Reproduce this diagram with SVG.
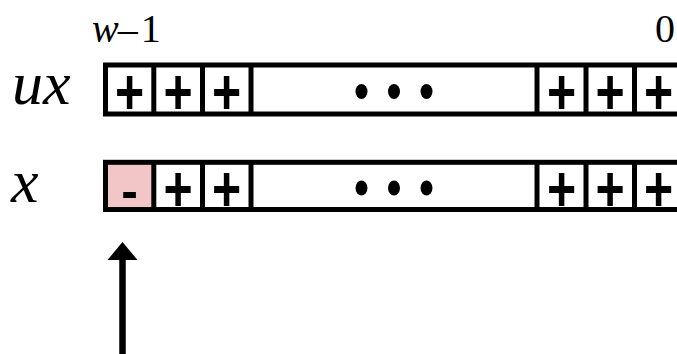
<svg xmlns="http://www.w3.org/2000/svg" width="677" height="354" viewBox="0 0 677 354">
<style>
.lbl{font-family:"Liberation Serif","Times New Roman",serif;fill:#000}
.it{font-style:italic}
.box{fill:none;stroke:#000;stroke-width:5}
.div{stroke:#000;stroke-width:5}
.pl{font-family:"Liberation Sans",Arial,sans-serif;font-weight:bold;font-size:50px;text-anchor:middle;fill:#000}
.dot{fill:#000}
</style>
<rect width="677" height="354" fill="#fff"/>
<g id="labels">
<text class="lbl" x="92" y="41.5" font-size="40"><tspan class="it">w</tspan><tspan dx="-1">–</tspan><tspan dx="3">1</tspan></text>
<text class="lbl" x="675" y="42" font-size="40" text-anchor="end">0</text>
<text class="lbl it" x="12" y="104" font-size="62">ux</text>
<text class="lbl it" x="11" y="201.5" font-size="62">x</text>
</g>
<g id="ux-row">
<rect class="box" x="105.5" y="65" width="580" height="49"/>
<line class="div" x1="153.8" y1="65" x2="153.8" y2="114"/>
<line class="div" x1="202.5" y1="65" x2="202.5" y2="114"/>
<line class="div" x1="251" y1="65" x2="251" y2="114"/>
<line class="div" x1="537" y1="65" x2="537" y2="114"/>
<line class="div" x1="586" y1="65" x2="586" y2="114"/>
<line class="div" x1="634.5" y1="65" x2="634.5" y2="114"/>
<text class="pl" transform="translate(129.5,91) scale(1,1.3)" y="18">+</text>
<text class="pl" transform="translate(178,91) scale(1,1.3)" y="18">+</text>
<text class="pl" transform="translate(226.5,91) scale(1,1.3)" y="18">+</text>
<text class="pl" transform="translate(561.5,91) scale(1,1.3)" y="18">+</text>
<text class="pl" transform="translate(610,91) scale(1,1.3)" y="18">+</text>
<text class="pl" transform="translate(658.5,91) scale(1,1.3)" y="18">+</text>
<ellipse class="dot" cx="361.5" cy="91.5" rx="6" ry="7.5"/>
<ellipse class="dot" cx="394" cy="91.5" rx="6" ry="7.5"/>
<ellipse class="dot" cx="426.5" cy="91.5" rx="6" ry="7.5"/>
</g>
<g id="x-row">
<rect x="105.5" y="162.3" width="48.3" height="47.2" fill="#F2C6C6"/>
<rect class="box" x="105.5" y="162.3" width="580" height="47.2"/>
<line class="div" x1="153.8" y1="162.3" x2="153.8" y2="209.5"/>
<line class="div" x1="202.5" y1="162.3" x2="202.5" y2="209.5"/>
<line class="div" x1="251" y1="162.3" x2="251" y2="209.5"/>
<line class="div" x1="537" y1="162.3" x2="537" y2="209.5"/>
<line class="div" x1="586" y1="162.3" x2="586" y2="209.5"/>
<line class="div" x1="634.5" y1="162.3" x2="634.5" y2="209.5"/>
<text class="pl" x="129.5" y="207.8" font-size="56">-</text>
<text class="pl" transform="translate(178,187.5) scale(1,1.3)" y="18">+</text>
<text class="pl" transform="translate(226.5,187.5) scale(1,1.3)" y="18">+</text>
<text class="pl" transform="translate(561.5,187.5) scale(1,1.3)" y="18">+</text>
<text class="pl" transform="translate(610,187.5) scale(1,1.3)" y="18">+</text>
<text class="pl" transform="translate(658.5,187.5) scale(1,1.3)" y="18">+</text>
<ellipse class="dot" cx="361.5" cy="188" rx="6" ry="7.5"/>
<ellipse class="dot" cx="394" cy="188" rx="6" ry="7.5"/>
<ellipse class="dot" cx="426.5" cy="188" rx="6" ry="7.5"/>
</g>
<g id="connectors">
<line x1="122.5" y1="354" x2="122.5" y2="258" stroke="#000" stroke-width="6.5"/>
<polygon points="122.5,242 107.5,260 137.5,260" fill="#000"/>
</g>
</svg>
